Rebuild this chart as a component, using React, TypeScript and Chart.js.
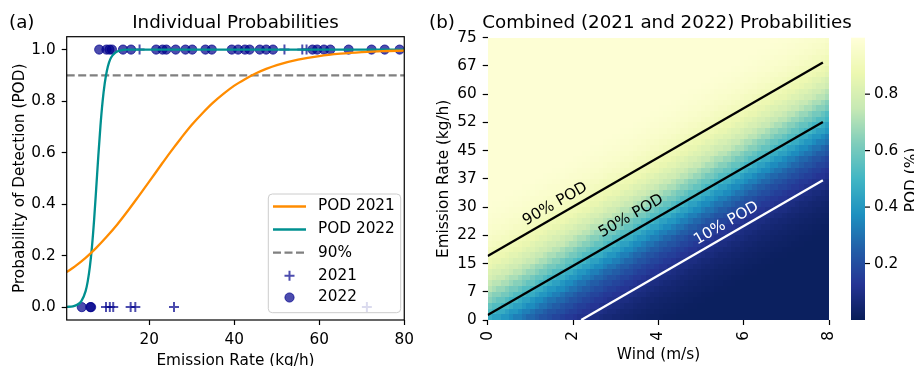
import React, { useEffect, useRef } from "react";
import { Chart, registerables } from "chart.js";
Chart.register(...registerables);

const FONT_FAMILY = '"DejaVu Sans", Verdana, sans-serif';
const TICK_SIZE = 15.3;
const TITLE_SIZE = 18.3;

// ---------------- Panel (a) data ----------------
const emissionTicksA = [20, 40, 60, 80];
const podTicksA = [0, 0.2, 0.4, 0.6, 0.8, 1.0];
const emissionRangeA = [0.55, 80];
const podRangeA = [-0.05, 1.05];

const pod2021X = [0.55, 2.5, 5, 7.5, 10, 12.5, 15, 17.5, 20, 22.5, 25, 27.5, 30, 32.5, 35, 37.5, 40, 42.5, 45, 47.5, 50, 55, 60, 65, 70, 75, 80];
const pod2021Y = [0.136, 0.158, 0.191, 0.23, 0.274, 0.322, 0.375, 0.431, 0.488, 0.546, 0.603, 0.657, 0.708, 0.753, 0.794, 0.829, 0.86, 0.885, 0.907, 0.925, 0.94, 0.961, 0.975, 0.984, 0.99, 0.994, 0.996];

const pod2022X = [0.55, 2, 3, 4, 5, 5.5, 6, 6.5, 7, 7.5, 8, 8.5, 9, 9.5, 10, 10.5, 11, 12, 13, 15, 20, 40, 60, 80];
const pod2022Y = [0.001, 0.003, 0.009, 0.023, 0.062, 0.1, 0.156, 0.235, 0.339, 0.462, 0.589, 0.705, 0.799, 0.869, 0.917, 0.949, 0.969, 0.988, 0.996, 0.9995, 1.0, 1.0, 1.0, 1.0];

const threshold90 = 0.9;

const missed2021 = [9.8, 10.7, 11.5, 15.6, 16.7, 25.8, 71.2];
const detected2021 = [17.7, 51.8, 56.0, 57.0];
const missed2022 = [4.1, 6.1, 6.3];
const detected2022 = [8.2, 9.9, 10.6, 11.2, 13.8, 15.7, 21.6, 23.1, 24.0, 26.2, 28.5, 30.1, 33.2, 34.7, 39.4, 40.9, 42.5, 43.6, 46.0, 47.5, 49.1, 58.4, 59.5, 61.1, 62.6, 66.9, 72.3, 75.4, 78.9];

// ---------------- Panel (b) data ----------------
const windTicks = [0, 2, 4, 6, 8];
const emissionTickValues = [0, 7.5, 15, 22.5, 30, 37.5, 45, 52.5, 60, 67.5, 75];
const emissionTickLabels = ["0", "7", "15", "22", "30", "37", "45", "52", "60", "67", "75"];
const windRange = [0, 8];
const emissionRangeB = [0, 75];
const windCellCount = 80;
const emissionCellCount = 50;

// contour lines (wind m/s, emission kg/h)
const contour90X = [0, 7.85];
const contour90Y = [17.0, 68.4];
const contour50X = [0, 7.85];
const contour50Y = [1.3, 52.6];
const contour10X = [2.19, 7.85];
const contour10Y = [0, 37.1];

// POD, by offset (kg/h) from the 50% line
const podProfileStart = -30;
const podProfile = [0.015, 0.017, 0.019, 0.022, 0.026, 0.029, 0.033, 0.038, 0.044, 0.05, 0.057, 0.065, 0.074, 0.085, 0.096, 0.109, 0.123, 0.139, 0.157, 0.177, 0.198, 0.221, 0.246, 0.273, 0.301, 0.332, 0.363, 0.396, 0.43, 0.465, 0.5, 0.535, 0.57, 0.604, 0.637, 0.668, 0.699, 0.727, 0.754, 0.779, 0.802, 0.823, 0.843, 0.861, 0.877, 0.891, 0.904, 0.915, 0.926, 0.935, 0.943, 0.95, 0.956, 0.962, 0.967, 0.971, 0.974, 0.978, 0.981, 0.983, 0.985];

const contourLabels = ["90% POD", "50% POD", "10% POD"];
const contourLabelX = [1.58, 3.36, 5.59];
const contourLabelY = [30.8, 27.6, 25.7];
const contourLabelColors = ["#000000", "#000000", "#ffffff"];

const colorbarTicks = [0.2, 0.4, 0.6, 0.8];
const colorRange = [0, 1];

const YLGNBU = [
  [255, 255, 217], [237, 248, 177], [199, 233, 180], [127, 205, 187], [65, 182, 196],
  [29, 145, 192], [34, 94, 168], [37, 52, 148], [8, 29, 88],
];

function ylgnbuR(v: number): string {
  const n = (v - colorRange[0]) / (colorRange[1] - colorRange[0]);
  const t = Math.min(1, Math.max(0, 1 - n)) * (YLGNBU.length - 1);
  const i = Math.min(YLGNBU.length - 2, Math.floor(t));
  const f = t - i;
  const a = YLGNBU[i], b = YLGNBU[i + 1];
  const c = [0, 1, 2].map((k) => Math.round(a[k] + (b[k] - a[k]) * f));
  return `rgb(${c[0]},${c[1]},${c[2]})`;
}

function font(size: number) {
  return `${size}px ${FONT_FAMILY}`;
}

const BLUE = "rgba(0,0,139,0.7)";
const ORANGE = "#ff8c00";
const TEAL = "#009090";

function pts(xs: number[], ys: number[]) {
  return xs.map((x, i) => ({ x, y: ys[i] }));
}

const decorA = {
  id: "decorA",
  afterDraw(chart: any) {
    const { ctx, chartArea: ca } = chart;
    ctx.save();
    // spines
    ctx.strokeStyle = "#000";
    ctx.lineWidth = 1.2;
    ctx.strokeRect(ca.left, ca.top, ca.right - ca.left, ca.bottom - ca.top);
    // texts
    ctx.fillStyle = "#000";
    ctx.textBaseline = "alphabetic";
    ctx.font = font(TITLE_SIZE);
    ctx.textAlign = "left";
    ctx.fillText("(a)", 9, 28.3);
    ctx.textAlign = "center";
    ctx.fillText("Individual Probabilities", (ca.left + ca.right) / 2, 28.3);
    ctx.font = font(TICK_SIZE);
    ctx.fillText("Emission Rate (kg/h)", (ca.left + ca.right) / 2, 364.5);
    ctx.save();
    ctx.translate(23.5, (ca.top + ca.bottom) / 2);
    ctx.rotate(-Math.PI / 2);
    ctx.fillText("Probability of Detection (POD)", 0, 0);
    ctx.restore();

    // legend
    const bx = 268.3, by = 194, bw = 132.4, bh = 118.7;
    ctx.beginPath();
    (ctx as any).roundRect(bx, by, bw, bh, 4);
    ctx.fillStyle = "rgba(255,255,255,0.8)";
    ctx.fill();
    ctx.strokeStyle = "#cccccc";
    ctx.lineWidth = 1;
    ctx.stroke();
    const rowsY = [206.5, 229.5, 252.7, 275.7, 297.5];
    chart.data.datasets.forEach((ds: any, i: number) => {
      const y = rowsY[i];
      if (ds.showLine === false) {
        ctx.strokeStyle = ds.borderColor;
        ctx.fillStyle = ds.backgroundColor;
        ctx.lineWidth = ds.borderWidth;
        const cx = 289.5;
        if (ds.pointStyle === "cross") {
          const r = ds.pointRadius;
          ctx.beginPath();
          ctx.moveTo(cx - r, y); ctx.lineTo(cx + r, y);
          ctx.moveTo(cx, y - r); ctx.lineTo(cx, y + r);
          ctx.stroke();
        } else {
          ctx.beginPath();
          ctx.arc(cx, y, ds.pointRadius, 0, Math.PI * 2);
          ctx.fill();
          ctx.stroke();
        }
      } else {
        ctx.strokeStyle = ds.borderColor;
        ctx.lineWidth = ds.borderWidth;
        ctx.setLineDash(ds.borderDash || []);
        ctx.beginPath();
        ctx.moveTo(273, y);
        ctx.lineTo(306, y);
        ctx.stroke();
        ctx.setLineDash([]);
      }
      ctx.fillStyle = "#000";
      ctx.font = font(TICK_SIZE);
      ctx.textAlign = "left";
      ctx.textBaseline = "middle";
      ctx.fillText(ds.label, 318, y);
    });
    ctx.restore();
  },
};

const heatmapPlugin = {
  id: "heatmap",
  beforeDatasetsDraw(chart: any) {
    const { ctx } = chart;
    const xs = chart.scales.x, ys = chart.scales.y;
    const dw = (windRange[1] - windRange[0]) / windCellCount;
    const de = (emissionRangeB[1] - emissionRangeB[0]) / emissionCellCount;
    const slope = (contour50Y[1] - contour50Y[0]) / (contour50X[1] - contour50X[0]);
    const intercept = contour50Y[0] - slope * contour50X[0];
    ctx.save();
    for (let i = 0; i < windCellCount; i++) {
      const w0 = windRange[0] + i * dw, w1 = w0 + dw;
      const px0 = Math.round(xs.getPixelForValue(w0));
      const px1 = Math.round(xs.getPixelForValue(w1));
      const wc = w0 + dw / 2;
      for (let j = 0; j < emissionCellCount; j++) {
        const e0 = emissionRangeB[0] + j * de, e1 = e0 + de;
        const py0 = Math.round(ys.getPixelForValue(e0));
        const py1 = Math.round(ys.getPixelForValue(e1));
        const ec = e0 + de / 2;
        const d = ec - (intercept + slope * wc);
        const idx = Math.min(podProfile.length - 1, Math.max(0, Math.round(d - podProfileStart)));
        ctx.fillStyle = ylgnbuR(podProfile[idx]);
        ctx.fillRect(px0, py1, px1 - px0, py0 - py1);
      }
    }
    ctx.restore();
  },
};

const decorB = {
  id: "decorB",
  afterDraw(chart: any) {
    const { ctx, chartArea: ca } = chart;
    const xs = chart.scales.x, ys = chart.scales.y;
    ctx.save();
    ctx.fillStyle = "#000";
    ctx.font = font(TITLE_SIZE);
    ctx.textBaseline = "alphabetic";
    ctx.textAlign = "left";
    ctx.fillText("(b)", 9, 28.3);
    ctx.textAlign = "center";
    ctx.fillText("Combined (2021 and 2022) Probabilities", 247, 28.3);
    ctx.font = font(TICK_SIZE);
    ctx.fillText("Wind (m/s)", (ca.left + ca.right) / 2, 359);
    ctx.save();
    ctx.translate(27.5, (ca.top + ca.bottom) / 2);
    ctx.rotate(-Math.PI / 2);
    ctx.fillText("Emission Rate (kg/h)", 0, 0);
    ctx.restore();

    // contour labels
    const a0x = xs.getPixelForValue(contour50X[0]), a0y = ys.getPixelForValue(contour50Y[0]);
    const a1x = xs.getPixelForValue(contour50X[1]), a1y = ys.getPixelForValue(contour50Y[1]);
    const ang = Math.atan2(a1y - a0y, a1x - a0x);
    contourLabels.forEach((t, i) => {
      ctx.save();
      ctx.translate(xs.getPixelForValue(contourLabelX[i]), ys.getPixelForValue(contourLabelY[i]));
      ctx.rotate(ang);
      ctx.fillStyle = contourLabelColors[i];
      ctx.textAlign = "center";
      ctx.textBaseline = "middle";
      ctx.fillText(t, 0, 0);
      ctx.restore();
    });

    // colorbar
    const cbL = 431, cbR = 445, cbT = ca.top, cbB = ca.bottom;
    const valToY = (v: number) => cbB - ((v - colorRange[0]) / (colorRange[1] - colorRange[0])) * (cbB - cbT);
    for (let y = Math.floor(cbT); y < cbB; y++) {
      const v = colorRange[0] + ((cbB - (y + 0.5)) / (cbB - cbT)) * (colorRange[1] - colorRange[0]);
      ctx.fillStyle = ylgnbuR(v);
      const top = Math.max(y, cbT);
      ctx.fillRect(cbL, top, cbR - cbL, Math.min(y + 1, cbB) - top);
    }
    ctx.strokeStyle = "#000";
    ctx.lineWidth = 1.2;
    ctx.fillStyle = "#000";
    ctx.textAlign = "left";
    ctx.textBaseline = "middle";
    colorbarTicks.forEach((v) => {
      const y = valToY(v);
      ctx.beginPath();
      ctx.moveTo(cbR, y);
      ctx.lineTo(cbR + 5, y);
      ctx.stroke();
      ctx.fillText(v.toFixed(1), cbR + 9, y);
    });
    ctx.save();
    ctx.translate(496.2, 180);
    ctx.rotate(-Math.PI / 2);
    ctx.textAlign = "center";
    ctx.textBaseline = "alphabetic";
    ctx.fillText("POD (%)", 0, 0);
    ctx.restore();
    ctx.restore();
  },
};

const tickFont = { family: FONT_FAMILY, size: TICK_SIZE };

export default function App() {
  const refA = useRef<HTMLCanvasElement>(null);
  const refB = useRef<HTMLCanvasElement>(null);

  useEffect(() => {
    Chart.defaults.font.family = FONT_FAMILY;
    const chartA = new Chart(refA.current as HTMLCanvasElement, {
      type: "line",
      data: {
        datasets: [
          { label: "POD 2021", data: pts(pod2021X, pod2021Y), borderColor: ORANGE, borderWidth: 2.3, pointRadius: 0, cubicInterpolationMode: "monotone", order: 0 } as any,
          { label: "POD 2022", data: pts(pod2022X, pod2022Y), borderColor: TEAL, borderWidth: 2.3, pointRadius: 0, cubicInterpolationMode: "monotone", order: 0 } as any,
          { label: "90%", data: [{ x: emissionRangeA[0], y: threshold90 }, { x: emissionRangeA[1], y: threshold90 }], borderColor: "#808080", borderWidth: 2.3, borderDash: [8, 3.5], pointRadius: 0, order: 0 } as any,
          {
            type: "scatter", label: "2021", showLine: false,
            data: missed2021.map((x) => ({ x, y: 0 })).concat(detected2021.map((x) => ({ x, y: 1 }))),
            pointStyle: "cross", pointRadius: 5, borderColor: BLUE, backgroundColor: BLUE, borderWidth: 2, order: 2,
          } as any,
          {
            type: "scatter", label: "2022", showLine: false,
            data: missed2022.map((x) => ({ x, y: 0 })).concat(detected2022.map((x) => ({ x, y: 1 }))),
            pointStyle: "circle", pointRadius: 4.6, borderColor: BLUE, backgroundColor: BLUE, borderWidth: 1, order: 1,
          } as any,
        ],
      },
      options: {
        responsive: false,
        animation: false,
        devicePixelRatio: 1,
        events: [],
        layout: { padding: { left: 0, top: 36.7, right: 11.7, bottom: 0 } },
        scales: {
          x: {
            type: "linear", min: emissionRangeA[0], max: emissionRangeA[1],
            afterBuildTicks: (s: any) => { s.ticks = emissionTicksA.map((v) => ({ value: v })); },
            afterFit: (s: any) => { s.height = 46; },
            grid: { drawOnChartArea: false, drawTicks: true, tickLength: 5, tickColor: "#000", tickWidth: 1.2 },
            border: { display: false },
            ticks: { font: tickFont, color: "#000", padding: 6, maxRotation: 0, autoSkip: false, callback: (v: any) => String(v) },
          },
          y: {
            type: "linear", min: podRangeA[0], max: podRangeA[1],
            afterBuildTicks: (s: any) => { s.ticks = podTicksA.map((v) => ({ value: v })); },
            afterFit: (s: any) => { s.width = 66.7; },
            grid: { drawOnChartArea: false, drawTicks: true, tickLength: 5, tickColor: "#000", tickWidth: 1.2 },
            border: { display: false },
            ticks: { font: tickFont, color: "#000", padding: 6, autoSkip: false, callback: (v: any) => Number(v).toFixed(1) },
          },
        },
        plugins: { legend: { display: false }, tooltip: { enabled: false }, title: { display: false } },
      } as any,
      plugins: [decorA],
    });

    const chartB = new Chart(refB.current as HTMLCanvasElement, {
      type: "line",
      data: {
        datasets: [
          { label: "90%", data: pts(contour90X, contour90Y), borderColor: "#000", borderWidth: 2.3, pointRadius: 0 },
          { label: "50%", data: pts(contour50X, contour50Y), borderColor: "#000", borderWidth: 2.3, pointRadius: 0 },
          { label: "10%", data: pts(contour10X, contour10Y), borderColor: "#fff", borderWidth: 2.3, pointRadius: 0 },
        ],
      },
      options: {
        responsive: false,
        animation: false,
        devicePixelRatio: 1,
        events: [],
        layout: { padding: { left: 0, top: 37.7, right: 84.7, bottom: 0 } },
        scales: {
          x: {
            type: "linear", min: windRange[0], max: windRange[1],
            afterBuildTicks: (s: any) => { s.ticks = windTicks.map((v) => ({ value: v })); },
            afterFit: (s: any) => { s.height = 46; },
            grid: { drawOnChartArea: false, drawTicks: true, tickLength: 5, tickColor: "#000", tickWidth: 1.2 },
            border: { display: false },
            ticks: { font: tickFont, color: "#000", padding: 6, minRotation: 90, maxRotation: 90, autoSkip: false, callback: (v: any) => String(v) },
          },
          y: {
            type: "linear", min: emissionRangeB[0], max: emissionRangeB[1],
            afterBuildTicks: (s: any) => { s.ticks = emissionTickValues.map((v) => ({ value: v })); },
            afterFit: (s: any) => { s.width = 67.7; },
            grid: { drawOnChartArea: false, drawTicks: true, tickLength: 5, tickColor: "#000", tickWidth: 1.2 },
            border: { display: false },
            ticks: { font: tickFont, color: "#000", padding: 6, autoSkip: false, callback: (_v: any, i: number) => emissionTickLabels[i] },
          },
        },
        plugins: { legend: { display: false }, tooltip: { enabled: false }, title: { display: false } },
      } as any,
      plugins: [heatmapPlugin, decorB],
    });

    return () => {
      chartA.destroy();
      chartB.destroy();
    };
  }, []);

  return (
    <div style={{ position: "fixed", left: 0, top: 0, width: 914, height: 366, background: "#fff", overflow: "hidden" }}>
      <canvas ref={refA} width={420} height={366} style={{ position: "absolute", left: 0, top: 0, width: 420, height: 366 }} />
      <canvas ref={refB} width={494} height={366} style={{ position: "absolute", left: 420, top: 0, width: 494, height: 366 }} />
    </div>
  );
}
